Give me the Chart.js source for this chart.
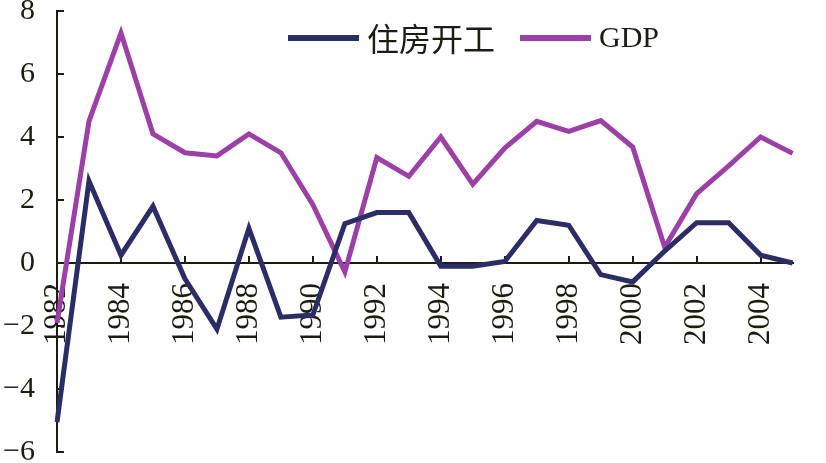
<!DOCTYPE html>
<html>
<head>
<meta charset="utf-8">
<script src="https://cdn.jsdelivr.net/npm/chart.js@4.4.0/dist/chart.umd.min.js"></script>
<style>
html, body { margin: 0; padding: 0; background: #fff; }
#wrap { width: 826px; height: 463px; }
</style>
</head>
<body>
<div id="wrap"><canvas id="chart"></canvas></div>
<script>
// data
const years = ['1982', '1983', '1984', '1985', '1986', '1987', '1988', '1989', '1990', '1991', '1992', '1993',
               '1994', '1995', '1996', '1997', '1998', '1999', '2000', '2001', '2002', '2003', '2004', '2005'];
const housingStarts = [-5.05, 2.6, 0.25, 1.8, -0.5, -2.1, 1.1, -1.72, -1.65, 1.25, 1.6, 1.6,
                       -0.1, -0.1, 0.05, 1.35, 1.2, -0.37, -0.6, 0.38, 1.28, 1.28, 0.25, 0.0];
const gdp = [-1.9, 4.5, 7.3, 4.1, 3.5, 3.4, 4.1, 3.5, 1.85, -0.28, 3.35, 2.75,
             4.0, 2.5, 3.65, 4.5, 4.18, 4.52, 3.68, 0.5, 2.2, 3.08, 4.0, 3.48];
const seriesNames = ['住房开工', 'GDP'];
const yMin = -6, yMax = 8, yStep = 2;

const housingColor = '#2b2e66';
const gdpColor = '#9c3fa6';
const inkColor = '#1c1c10';

// legend drawn inside the plot, like the original
const legendInPlot = {
    id: 'legendInPlot',
    afterDraw(chart) {
        const ctx = chart.ctx;
        let x = 288;
        const y = 38;
        ctx.save();
        chart.data.datasets.forEach(ds => {
            ctx.strokeStyle = ds.borderColor;
            ctx.lineWidth = 6;
            ctx.beginPath();
            ctx.moveTo(x, y);
            ctx.lineTo(x + 71, y);
            ctx.stroke();
            x += 79;
            const isCjk = /[\u4e00-\u9fff]/.test(ds.label);
            ctx.font = isCjk ? '32px "Noto Sans CJK SC"' : '30px "Liberation Serif"';
            ctx.fillStyle = inkColor;
            ctx.textBaseline = 'middle';
            ctx.fillText(ds.label, x, y + 1);
            x += ctx.measureText(ds.label).width + 25;
        });
        ctx.restore();
    }
};

const ctx = document.getElementById('chart').getContext('2d');

new Chart(ctx, {
    type: 'line',
    data: {
        labels: years,
        datasets: [{
            label: seriesNames[0],
            data: housingStarts,
            borderColor: housingColor,
            borderWidth: 5,
            pointRadius: 0,
            tension: 0,
            fill: false
        }, {
            label: seriesNames[1],
            data: gdp,
            borderColor: gdpColor,
            borderWidth: 5,
            pointRadius: 0,
            tension: 0,
            fill: false
        }]
    },
    options: {
        responsive: true,
        maintainAspectRatio: false,
        animation: false,
        layout: { padding: { top: 11, bottom: 11, left: 0, right: 4 } },
        plugins: {
            legend: { display: false },
            tooltip: { enabled: false }
        },
        scales: {
            x: {
                position: { y: 0 },
                offset: false,
                afterFit: (scale) => { scale.height = 0; },
                grid: { drawOnChartArea: false, tickLength: -8, color: inkColor, lineWidth: 2 },
                border: { color: inkColor, width: 2 },
                ticks: {
                    autoSkip: false,
                    minRotation: 90,
                    maxRotation: 90,
                    padding: 28,
                    color: inkColor,
                    font: { family: 'Liberation Serif', size: 31 },
                    callback: function (value, index) {
                        return index % 2 === 0 ? this.getLabelForValue(value) : null;
                    }
                }
            },
            y: {
                min: yMin,
                max: yMax,
                afterFit: (scale) => {
                    scale.width = 57;
                    scale.paddingTop = 0;
                    scale.paddingBottom = 0;
                },
                grid: { drawOnChartArea: false, tickLength: -7, color: inkColor, lineWidth: 2 },
                border: { color: inkColor, width: 2 },
                ticks: {
                    stepSize: yStep,
                    padding: 29,
                    color: inkColor,
                    font: { family: 'Liberation Serif', size: 30 },
                    callback: (value) => value < 0 ? '\u2212' + Math.abs(value) : String(value)
                }
            }
        }
    },
    plugins: [legendInPlot]
});
</script>
</body>
</html>
